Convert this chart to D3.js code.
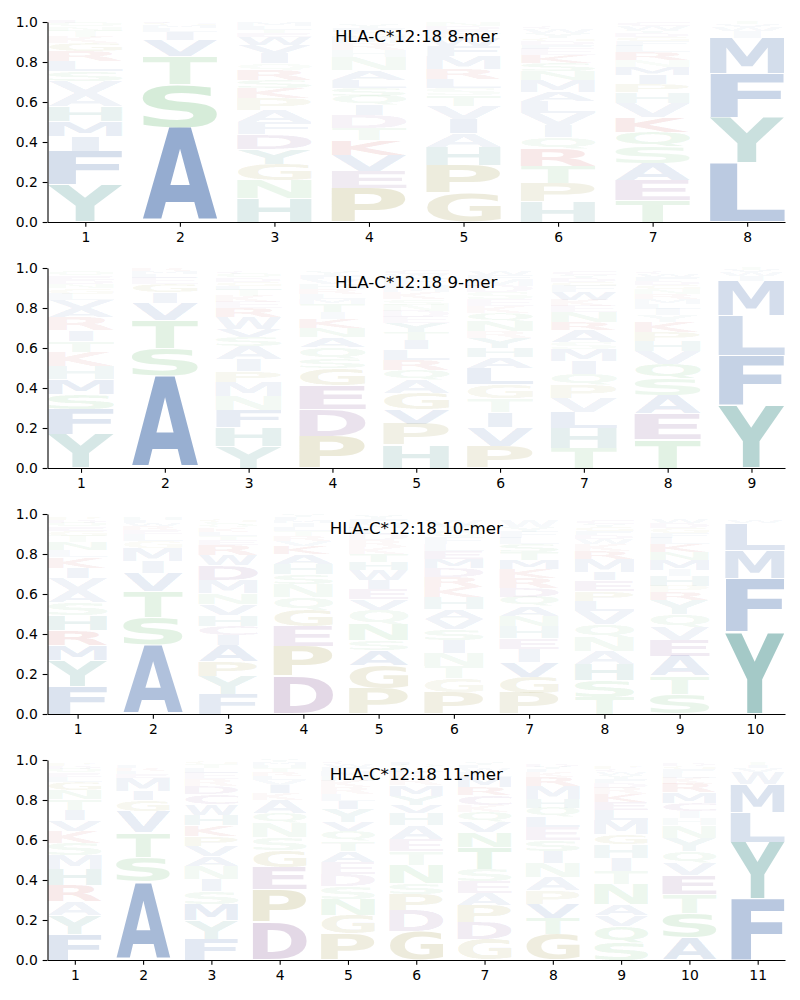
<!DOCTYPE html>
<html><head><meta charset="utf-8">
<script src="https://cdn.jsdelivr.net/npm/d3@7"></script>
<style>body{margin:0;background:#fff}svg{display:block}</style>
</head><body><div id="chart"></div>
<script>
const titles = ["HLA-C*12:18 8-mer", "HLA-C*12:18 9-mer", "HLA-C*12:18 10-mer", "HLA-C*12:18 11-mer"];
const yTicks = [0, 0.2, 0.4, 0.6, 0.8, 1.0];

// each position: letters bottom -> top, [letter, probability]
const logo8 = [
  [["Y",.185],["F",.17],["I",.075],["M",.075],["H",.075],["A",.065],["V",.06],["S",.05],["L",.05],["R",.05],["G",.04],["K",.03],["T",.03],["N",.02],["Q",.02],["E",.015]],
  [["A",.475],["S",.215],["T",.14],["V",.08],["I",.04],["L",.02],["M",.015],["G",.01],["E",.005]],
  [["H",.12],["N",.09],["G",.08],["Y",.075],["D",.075],["F",.06],["A",.06],["P",.06],["K",.05],["S",.04],["R",.05],["Q",.035],["I",.05],["V",.04],["W",.04],["E",.02],["T",.015],["L",.02],["M",.02]],
  [["P",.17],["E",.085],["V",.08],["K",.075],["T",.06],["D",.065],["I",.05],["Q",.045],["S",.04],["L",.04],["A",.05],["N",.065],["H",.035],["R",.035],["M",.03],["G",.025],["F",.02],["Y",.02]],
  [["G",.145],["P",.14],["H",.09],["A",.07],["I",.07],["V",.065],["T",.055],["S",.035],["L",.045],["R",.05],["M",.065],["F",.05],["W",.04],["K",.02],["E",.02],["D",.02],["N",.02]],
  [["H",.10],["P",.095],["T",.085],["R",.085],["Q",.06],["I",.06],["V",.06],["L",.06],["A",.045],["M",.06],["N",.045],["S",.04],["K",.04],["E",.03],["F",.02],["D",.02],["G",.015],["Y",.025],["W",.02],["C",.015]],
  [["T",.11],["E",.10],["A",.085],["S",.08],["Q",.075],["K",.075],["V",.07],["H",.055],["P",.04],["I",.045],["M",.04],["N",.035],["R",.04],["L",.03],["F",.025],["G",.02],["D",.02],["Y",.015],["W",.02],["C",.02]],
  [["L",.295],["Y",.225],["F",.22],["M",.18],["I",.035],["W",.02],["V",.015],["T",.01]]
];
const logo9 = [
  [["Y",.17],["F",.125],["S",.075],["M",.075],["H",.065],["K",.07],["T",.055],["I",.055],["R",.065],["A",.045],["V",.04],["L",.03],["G",.03],["N",.02],["D",.02],["E",.02],["Q",.02]],
  [["A",.46],["S",.14],["T",.14],["V",.085],["I",.055],["G",.04],["E",.03],["L",.02],["M",.015],["R",.01]],
  [["Y",.11],["H",.095],["F",.085],["N",.07],["M",.07],["P",.055],["I",.06],["A",.065],["S",.045],["V",.04],["W",.06],["R",.045],["E",.03],["K",.03],["T",.03],["L",.02],["G",.02],["D",.02],["Q",.02],["C",.015]],
  [["P",.16],["D",.135],["E",.12],["G",.085],["S",.045],["Q",.06],["A",.05],["N",.045],["K",.045],["I",.035],["T",.04],["M",.025],["L",.025],["R",.025],["H",.025],["V",.025],["F",.02],["Y",.02]],
  [["H",.115],["P",.105],["V",.075],["G",.08],["A",.065],["Q",.05],["R",.05],["L",.055],["I",.045],["T",.04],["Y",.045],["E",.03],["D",.03],["N",.03],["S",.03],["K",.035],["M",.035],["F",.035],["W",.02],["C",.02]],
  [["P",.11],["V",.095],["I",.075],["T",.07],["G",.07],["L",.08],["A",.055],["H",.045],["Y",.05],["R",.035],["N",.05],["Q",.04],["K",.035],["E",.035],["S",.035],["D",.03],["M",.03],["F",.025],["W",.02]],
  [["T",.10],["H",.10],["L",.08],["V",.07],["P",.065],["Q",.055],["I",.065],["M",.06],["S",.035],["A",.06],["R",.04],["N",.05],["E",.03],["K",.03],["W",.04],["F",.03],["G",.02],["D",.02],["Y",.015],["C",.02]],
  [["T",.145],["E",.125],["A",.095],["S",.08],["Q",.075],["V",.065],["H",.05],["P",.045],["K",.05],["Y",.035],["I",.03],["L",.025],["M",.025],["R",.025],["N",.025],["G",.02],["D",.02],["F",.02],["W",.015],["C",.015]],
  [["Y",.315],["F",.245],["L",.20],["M",.175],["I",.025],["W",.02],["V",.01],["T",.01]]
];
const logo10 = [
  [["F",.14],["Y",.13],["M",.075],["R",.075],["H",.075],["S",.065],["A",.06],["V",.06],["I",.05],["K",.055],["L",.035],["N",.04],["T",.03],["G",.025],["E",.02],["Q",.02],["D",.015],["P",.015]],
  [["A",.345],["S",.14],["T",.13],["V",.09],["I",.06],["M",.065],["G",.035],["L",.035],["E",.02],["R",.02],["W",.015],["F",.015],["H",.01]],
  [["F",.10],["Y",.09],["P",.075],["A",.08],["I",.05],["C",.045],["H",.055],["V",.055],["N",.055],["M",.065],["D",.075],["W",.05],["R",.05],["E",.025],["T",.02],["L",.02],["K",.02],["Q",.015],["S",.015],["G",.015]],
  [["D",.19],["P",.15],["E",.10],["G",.08],["Q",.065],["N",.065],["S",.05],["H",.05],["A",.05],["K",.04],["V",.025],["R",.025],["T",.025],["L",.02],["I",.02],["M",.015],["F",.015],["Y",.015]],
  [["P",.125],["G",.12],["A",.075],["S",.05],["N",.08],["Q",.07],["V",.055],["E",.05],["I",.045],["W",.05],["H",.04],["T",.04],["K",.035],["R",.035],["D",.03],["L",.03],["M",.025],["F",.02],["Y",.02]],
  [["P",.11],["G",.07],["T",.06],["N",.065],["I",.065],["S",.055],["V",.05],["A",.05],["H",.06],["K",.05],["R",.05],["D",.045],["M",.045],["E",.04],["L",.035],["F",.035],["Q",.03],["Y",.03],["W",.025]],
  [["P",.105],["G",.08],["V",.075],["I",.065],["E",.055],["H",.06],["N",.05],["A",.05],["Q",.045],["D",.045],["R",.05],["K",.045],["M",.045],["T",.04],["S",.04],["L",.03],["F",.03],["Y",.025],["W",.035]],
  [["T",.085],["S",.085],["H",.08],["A",.065],["N",.07],["Q",.065],["V",.065],["L",.05],["P",.05],["E",.055],["I",.04],["M",.065],["R",.04],["K",.035],["W",.025],["D",.02],["F",.02],["G",.02],["Y",.015],["C",.02]],
  [["S",.10],["T",.09],["A",.10],["E",.08],["V",.065],["Q",.065],["Y",.07],["R",.04],["P",.03],["H",.05],["I",.03],["M",.05],["N",.04],["K",.04],["L",.03],["F",.025],["G",.025],["D",.025],["W",.02]],
  [["Y",.41],["F",.27],["M",.14],["L",.135],["W",.01],["V",.005]]
];
const logo11 = [
  [["F",.13],["Y",.095],["A",.07],["R",.08],["H",.08],["M",.07],["S",.06],["K",.06],["V",.055],["I",.05],["T",.055],["N",.045],["G",.04],["L",.025],["E",.02],["Q",.02],["D",.015],["P",.01]],
  [["A",.39],["S",.125],["T",.125],["V",.105],["G",.055],["I",.045],["M",.065],["E",.02],["L",.015],["R",.015],["F",.01]],
  [["F",.105],["Y",.095],["M",.08],["S",.065],["I",.06],["N",.065],["A",.05],["V",.05],["P",.05],["K",.055],["H",.05],["W",.055],["C",.05],["D",.04],["R",.035],["E",.03],["L",.025],["T",.02],["G",.015]],
  [["D",.19],["P",.165],["E",.11],["G",.085],["S",.065],["N",.07],["Q",.05],["A",.065],["K",.035],["I",.04],["V",.025],["L",.02],["R",.02],["T",.02],["H",.015],["M",.015],["Y",.01]],
  [["P",.13],["G",.095],["N",.08],["S",.065],["D",.06],["E",.06],["A",.055],["T",.05],["Q",.05],["V",.045],["Y",.065],["I",.04],["L",.035],["R",.035],["K",.03],["H",.025],["M",.025],["F",.02],["W",.015],["C",.01]],
  [["G",.145],["D",.105],["P",.08],["S",.055],["N",.09],["T",.07],["E",.06],["A",.07],["H",.06],["V",.04],["Y",.045],["M",.055],["R",.035],["K",.03],["L",.02],["Q",.015],["F",.01]],
  [["G",.105],["D",.085],["P",.085],["A",.06],["E",.06],["S",.06],["T",.11],["N",.075],["V",.05],["Q",.05],["K",.035],["C",.05],["R",.04],["M",.05],["L",.025],["W",.02],["F",.015],["Y",.015]],
  [["G",.13],["T",.078],["V",.072],["P",.07],["A",.065],["N",.07],["I",.06],["S",.055],["E",.065],["L",.05],["Q",.045],["H",.045],["M",.065],["R",.045],["K",.025],["F",.015],["Y",.01],["D",.01]],
  [["S",.088],["Q",.08],["V",.055],["A",.055],["N",.10],["T",.065],["I",.067],["H",.067],["G",.05],["M",.07],["L",.05],["E",.04],["K",.04],["R",.035],["D",.025],["F",.02],["Y",.02],["W",.015],["C",.015],["P",.013]],
  [["A",.11],["S",.125],["T",.095],["E",.095],["V",.06],["Q",.06],["Y",.065],["N",.062],["H",.035],["I",.035],["C",.04],["M",.055],["R",.045],["K",.03],["L",.025],["F",.02],["G",.015],["D",.01]],
  [["F",.305],["Y",.285],["L",.15],["M",.14],["W",.06],["V",.02],["I",.015],["T",.01]]
];

const logos = [logo8, logo9, logo10, logo11];

const groupColors = [
  ["AFILMVW", "rgb(20,72,150)"],
  ["YH", "rgb(22,118,112)"],
  ["STNQ", "rgb(70,170,80)"],
  ["GP", "rgb(140,130,30)"],
  ["DEC", "rgb(112,56,130)"],
  ["KR", "rgb(190,40,40)"]
];
function letterColor(ch) {
  for (const [s, c] of groupColors) if (s.includes(ch)) return c;
  return "#333";
}
const opacityOf = h => Math.min(1, 0.9 * h + 0.025);

const W = 800, H = 1000;
const axLeft = 47.5, axRight = 785, axH = 200;
const tops = [22, 268, 514, 760];
const letterWidth = 0.79, vpad = 0.03;
const FS = 100, FONT = '"DejaVu Sans"';

const ctx = document.createElement("canvas").getContext("2d");
ctx.font = `bold ${FS}px ${FONT}`;
const metricCache = {};
function metric(ch) {
  if (!metricCache[ch]) {
    const t = ctx.measureText(ch);
    metricCache[ch] = {l: t.actualBoundingBoxLeft, r: t.actualBoundingBoxRight,
      a: t.actualBoundingBoxAscent, d: t.actualBoundingBoxDescent};
  }
  return metricCache[ch];
}
const refE = metric("E");
const refEW = refE.l + refE.r;

const svg = d3.select("#chart").append("svg").attr("width", W).attr("height", H)
  .attr("font-family", "DejaVu Sans");

logos.forEach((logo, pi) => {
  const n = logo.length;
  const top = tops[pi];
  const x = d3.scaleLinear().domain([0.6, n + 0.4]).range([axLeft, axRight]);
  const y = d3.scaleLinear().domain([0, 1]).range([top + axH, top]);
  const g = svg.append("g");

  logo.forEach((stack, i) => {
    const pos = i + 1;
    let cum = 0;
    stack.forEach(([ch, h]) => {
      const y0 = cum, y1 = cum + h;
      cum = y1;
      const pad = h * vpad / 2;
      const bTop = y(y1 - pad), bBot = y(y0 + pad);
      const bx0 = x(pos - letterWidth / 2), bx1 = x(pos + letterWidth / 2);
      const m = metric(ch);
      const inkW = m.l + m.r, inkH = m.a + m.d;
      const sx = (bx1 - bx0) / Math.max(inkW, refEW);
      const sy = (bBot - bTop) / inkH;
      const cx = (m.r - m.l) / 2;
      const xc = (bx0 + bx1) / 2;
      const tx = xc - sx * cx;
      const ty = bTop + sy * m.a;
      g.append("text")
        .text(ch)
        .attr("font-family", FONT)
        .attr("font-weight", "bold")
        .attr("font-size", FS)
        .attr("fill", letterColor(ch))
        .attr("fill-opacity", opacityOf(h))
        .attr("transform", `translate(${tx},${ty}) scale(${sx},${sy})`);
    });
  });

  const yAxis = d3.axisLeft(y).tickValues(yTicks).tickFormat(d3.format(".1f"))
    .tickSize(4.86).tickSizeOuter(0).tickPadding(4.86);
  const xAxis = d3.axisBottom(x).tickValues(d3.range(1, n + 1)).tickFormat(d3.format("d"))
    .tickSize(4.86).tickSizeOuter(0).tickPadding(4.86);

  const ya = svg.append("g").attr("transform", `translate(${axLeft},0)`).call(yAxis);
  const xa = svg.append("g").attr("transform", `translate(0,${top + axH})`).call(xAxis);
  [ya, xa].forEach(a => {
    a.selectAll("text").attr("font-size", 13.9).attr("font-family", "DejaVu Sans").attr("fill", "#000");
    a.selectAll("line").attr("stroke", "#000").attr("stroke-width", 1.1);
    a.select(".domain").attr("stroke", "#000").attr("stroke-width", 1.1);
  });

  svg.append("text")
    .attr("x", (axLeft + axRight) / 2)
    .attr("y", top + 19.7)
    .attr("text-anchor", "middle")
    .attr("font-size", 16.67)
    .attr("fill", "#000")
    .text(titles[pi]);
});
</script>
</body></html>
